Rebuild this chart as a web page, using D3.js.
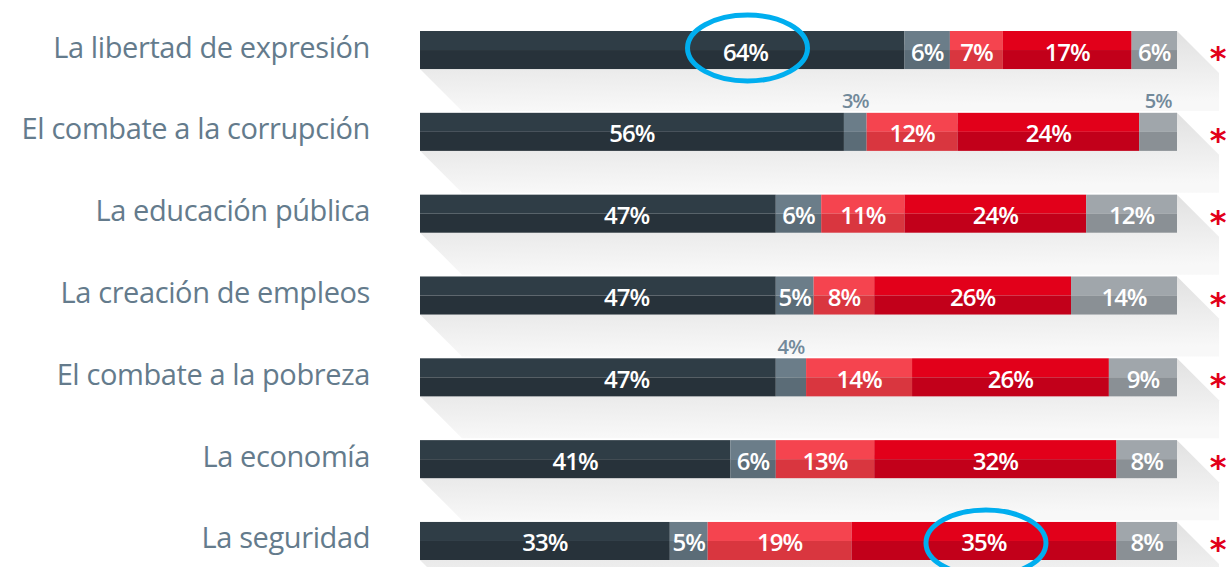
<!DOCTYPE html>
<html>
<head>
<meta charset="utf-8">
<script src="https://cdn.jsdelivr.net/npm/d3@7"></script>
<style>
  body { margin: 0; background: #fff; }
  svg { display: block; }
</style>
</head>
<body>
<div id="chart"></div>
<script>
// chart data
var categories = ["La libertad de expresión", "El combate a la corrupción", "La educación pública",
                  "La creación de empleos", "El combate a la pobreza", "La economía", "La seguridad"]
var s1 = [64, 56, 47, 47, 47, 41, 33]
var s2 = [6, 3, 6, 5, 4, 6, 5]
var s3 = [7, 12, 11, 8, 14, 13, 19]
var s4 = [17, 24, 24, 26, 26, 32, 35]
var s5 = [6, 5, 12, 14, 9, 8, 8]
var circled = [[0, 0], [6, 3]]   // [row, segment]

var svgSize = { width: 1226, height: 567 }
var topCols = ["#2f3d46", "#6b7d89", "#f5444f", "#e2001a", "#a0a6ab"]
var botCols = ["#27323a", "#5b6c77", "#d9363f", "#c2001a", "#8a9095"]
// where the first label sits (in % units) when it isn't centred
var firstLabelAt = { 0: 43, 2: 27.3, 3: 27.3, 4: 27.3 }
// small segments whose label goes above the bar
var outside = s => s.v < 5 || (s.v == 5 && s.row == 1)

var svg = d3.select("#chart").append("svg")
            .attr("width", svgSize.width)
            .attr("height", svgSize.height)

var defs = svg.append("defs")
var grad = defs.append("linearGradient").attr("id", "shade")
               .attr("x1", 0).attr("y1", 0).attr("x2", 0.15).attr("y2", 1)
grad.append("stop").attr("offset", "0%").attr("stop-color", "#dddddd")
grad.append("stop").attr("offset", "100%").attr("stop-color", "#f8f8f8")

var xScale = d3.scaleLinear().domain([0, 100]).range([420, 1177])
var yScale = d3.scaleBand().domain(categories).range([31, 560])
               .paddingInner(0.535).paddingOuter(0)
var bh = yScale.bandwidth()

var rows = categories.map((c, i) => {
    var vals = [s1[i], s2[i], s3[i], s4[i], s5[i]]
    var acc = 0
    var segs = vals.map((v, j) => {
        var s = { row: i, idx: j, cat: c, v: v, x0: acc, x1: acc + v }
        s.mid = (j == 0 && firstLabelAt[i] != null) ? firstLabelAt[i] : acc + v / 2
        acc += v
        return s
    })
    return { cat: c, segs: segs, total: acc }
})

// shadows
var d = 42
svg.append("g").selectAll("path").data(rows).enter().append("path")
    .attr("d", r => {
        var x0 = xScale(0), x1 = xScale(r.total)
        var y0 = yScale(r.cat), y1 = y0 + bh
        return `M${x0},${y1} L${x1},${y0} L${x1 + d},${y0 + d} L${x1 + d},${y1 + d} L${x0 + d},${y1 + d} Z`
    })
    .attr("fill", "url(#shade)")

// category labels
svg.append("g").selectAll("text").data(categories).enter().append("text")
    .attr("x", 370)
    .attr("y", c => yScale(c) + bh / 2 - 4)
    .attr("text-anchor", "end")
    .attr("dominant-baseline", "central")
    .attr("font-family", "'Open Sans', sans-serif")
    .attr("font-size", 29)
    .attr("letter-spacing", -0.4)
    .attr("fill", "#647b8c")
    .text(c => c)

var segs = rows.flatMap(r => r.segs)
var bars = svg.append("g")
bars.selectAll("rect.top").data(segs).enter().append("rect")
    .attr("x", s => xScale(s.x0))
    .attr("y", s => yScale(s.cat))
    .attr("width", s => xScale(s.x1) - xScale(s.x0))
    .attr("height", bh / 2)
    .attr("fill", s => topCols[s.idx])
bars.selectAll("rect.bot").data(segs).enter().append("rect")
    .attr("x", s => xScale(s.x0))
    .attr("y", s => yScale(s.cat) + bh / 2)
    .attr("width", s => xScale(s.x1) - xScale(s.x0))
    .attr("height", bh / 2)
    .attr("fill", s => botCols[s.idx])

// value labels
svg.append("g").selectAll("text").data(segs).enter().append("text")
    .attr("x", s => xScale(s.mid))
    .attr("y", s => outside(s) ? yScale(s.cat) - 12 : yScale(s.cat) + bh / 2 + 1)
    .attr("text-anchor", "middle")
    .attr("dominant-baseline", "central")
    .attr("font-family", "'Open Sans', sans-serif")
    .attr("font-weight", 600)
    .attr("font-size", s => outside(s) ? 20 : 24)
    .attr("letter-spacing", -1)
    .attr("fill", s => outside(s) ? "#72899a" : "#fff")
    .text(s => s.v + "%")

// asterisks
svg.append("g").selectAll("text").data(categories).enter().append("text")
    .attr("x", 1218)
    .attr("y", c => yScale(c) + bh / 2 + 19)
    .attr("text-anchor", "middle")
    .attr("font-family", "'DejaVu Sans', sans-serif")
    .attr("font-weight", "bold")
    .attr("font-size", 32)
    .attr("fill", "#e2001a")
    .text("*")

// highlight ellipses
svg.append("g").selectAll("ellipse").data(circled).enter().append("ellipse")
    .attr("cx", c => xScale(rows[c[0]].segs[c[1]].mid) + 2)
    .attr("cy", c => yScale(categories[c[0]]) + bh / 2 + (c[0] == 0 ? -2 : 2))
    .attr("rx", 60)
    .attr("ry", 33)
    .attr("fill", "none")
    .attr("stroke", "#00aeef")
    .attr("stroke-width", 5)
</script>
</body>
</html>
